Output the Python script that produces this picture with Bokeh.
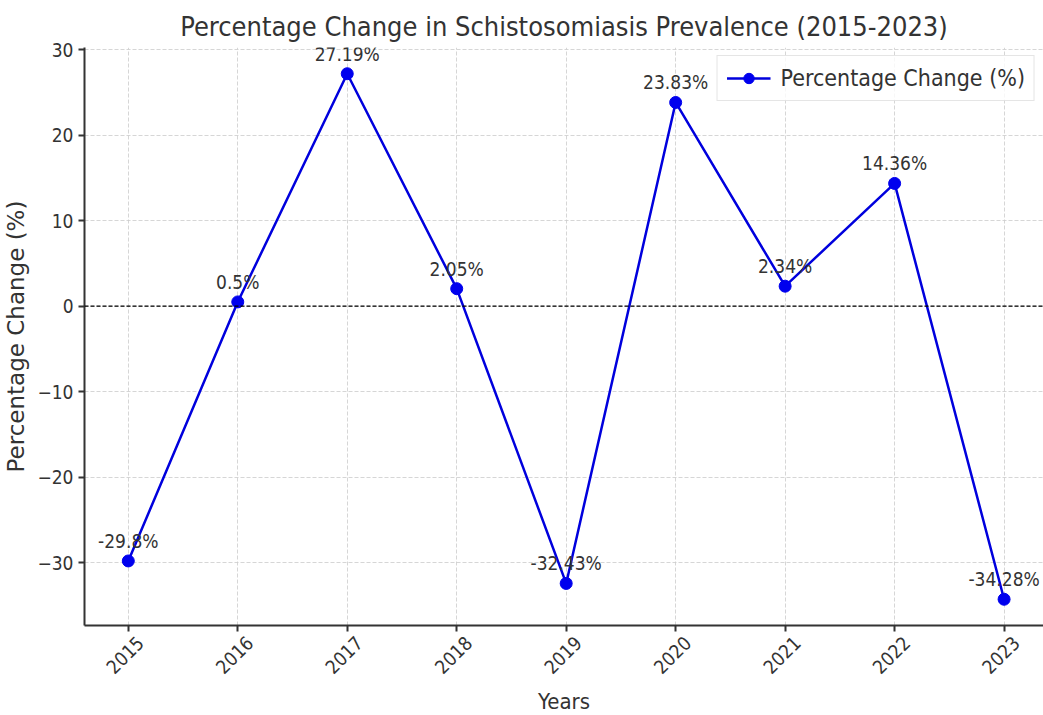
from bokeh.plotting import figure
from bokeh.models import ColumnDataSource, Span, Range1d, FixedTicker, Legend, LegendItem, LinearAxis
from bokeh.embed import file_html
from bokeh.resources import INLINE
from bokeh.core.properties import value
import math

years = [2015, 2016, 2017, 2018, 2019, 2020, 2021, 2022, 2023]
pct_change = [-29.8, 0.5, 27.19, 2.05, -32.43, 23.83, 2.34, 14.36, -34.28]
point_labels = ["-29.8%", "0.5%", "27.19%", "2.05%", "-32.43%", "23.83%", "2.34%", "14.36%", "-34.28%"]
y_ticks = [-30, -20, -10, 0, 10, 20, 30]

FONT = "DejaVu Sans Condensed"
X0, X1 = 2014.6, 2023.36
Y0, Y1 = -37.35, 30.26
LBL_SHIFT = 0.11  # shifts rotated year labels so they are centred under their ticks

src = ColumnDataSource(dict(x=years, y=pct_change, lab=point_labels))

p = figure(width=1043, height=715, output_backend="svg", toolbar_location=None,
           x_range=Range1d(X0, X1), y_range=Range1d(Y0, Y1),
           min_border_left=84, min_border_right=0, min_border_top=47, min_border_bottom=90)
p.frame_width = 959
p.frame_height = 578
p.extra_x_ranges = {"lab": Range1d(X0 - LBL_SHIFT, X1 - LBL_SHIFT)}

p.title.text = "Percentage Change in Schistosomiasis Prevalence (2015-2023)"
p.title.align = "center"
p.title.text_font = FONT
p.title.text_font_size = "27px"
p.title.text_font_style = "normal"
p.title.text_color = "#333333"
p.title.standoff = 12

p.outline_line_color = None

for ax in (p.xaxis, p.yaxis):
    ax.axis_line_color = "#333333"
    ax.axis_line_width = 2
    ax.major_tick_line_color = "#333333"
    ax.major_tick_line_width = 2
    ax.major_tick_out = 6
    ax.major_tick_in = 0
    ax.minor_tick_line_color = None
    ax.major_label_text_font = FONT
    ax.major_label_text_font_size = "19px"
    ax.major_label_text_color = "#333333"
    ax.axis_label_text_font = FONT
    ax.axis_label_text_font_style = "normal"
    ax.axis_label_text_color = "#333333"

# main x axis: line and tick marks only
p.xaxis.ticker = FixedTicker(ticks=years)
p.xaxis.major_label_text_color = None
p.xaxis.major_label_standoff = 0

# second x axis: the rotated year labels and the axis title
lab_axis = LinearAxis(x_range_name="lab", ticker=FixedTicker(ticks=years))
lab_axis.axis_line_color = None
lab_axis.major_tick_line_color = None
lab_axis.minor_tick_line_color = None
lab_axis.major_tick_out = 0
lab_axis.major_tick_in = 0
lab_axis.major_label_orientation = math.pi / 4
lab_axis.major_label_standoff = 8
lab_axis.major_label_text_font = FONT
lab_axis.major_label_text_font_size = "19px"
lab_axis.major_label_text_color = "#333333"
lab_axis.axis_label = "Years"
lab_axis.axis_label_text_font = FONT
lab_axis.axis_label_text_font_style = "normal"
lab_axis.axis_label_text_font_size = "22px"
lab_axis.axis_label_text_color = "#333333"
lab_axis.axis_label_standoff = 6
p.add_layout(lab_axis, "below")

p.yaxis.ticker = FixedTicker(ticks=y_ticks)
p.yaxis.axis_label = "Percentage Change (%)"
p.yaxis.axis_label_text_font = "DejaVu Sans"
p.yaxis.axis_label_text_font_size = "23px"
p.yaxis.axis_label_standoff = 5
p.yaxis.formatter.use_scientific = False

p.xgrid.grid_line_color = "#cccccc"
p.ygrid.grid_line_color = "#cccccc"
p.xgrid.grid_line_dash = "4 2"
p.ygrid.grid_line_dash = "4 2"
p.xgrid.grid_line_alpha = 0.8
p.ygrid.grid_line_alpha = 0.8

zero = Span(location=0, dimension="width", line_color="black", line_width=1.3, line_dash="4 2")
p.add_layout(zero)

ln = p.line("x", "y", source=src, line_color="#0000dd", line_width=2.5)
sc = p.scatter("x", "y", source=src, size=12, fill_color="#0000ee", line_color="#0000ee")

p.text("x", "y", text="lab", source=src, text_align="center", text_baseline="bottom",
       y_offset=-9, text_font=value(FONT), text_font_size="19px", text_color="#333333")

legend = Legend(items=[LegendItem(label="Percentage Change (%)", renderers=[ln, sc])],
                location="top_right")
legend.label_text_font = FONT
legend.label_text_font_size = "23px"
legend.label_text_color = "#333333"
legend.border_line_color = "#cccccc"
legend.border_line_width = 1
legend.background_fill_alpha = 0.8
legend.glyph_width = 44
legend.glyph_height = 26
legend.label_standoff = 10
legend.margin = 8
legend.padding = 9
p.add_layout(legend)

open("out.html", "w").write(file_html(p, INLINE))
